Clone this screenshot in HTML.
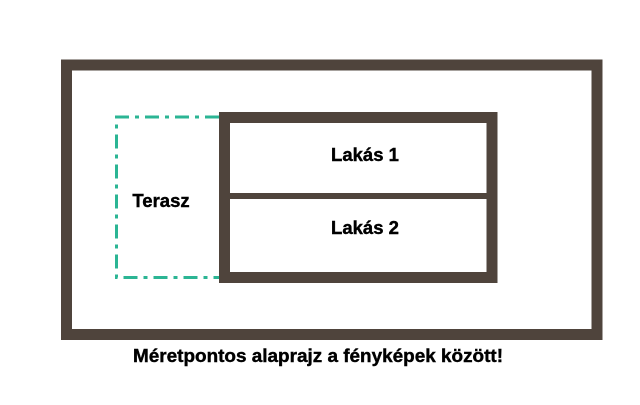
<!DOCTYPE html>
<html><head><meta charset="utf-8"><style>
html,body{margin:0;padding:0;background:#fff;width:640px;height:405px;overflow:hidden}
</style></head><body>
<svg width="640" height="405" viewBox="0 0 640 405" xmlns="http://www.w3.org/2000/svg">
<rect width="640" height="405" fill="#fff"/>
<rect x="66.5" y="65" width="530.5" height="269.5" fill="none" stroke="#4f443c" stroke-width="11"/>
<path d="M219 117 H116.5 V277.5 H219" fill="none" stroke="#2bb594" stroke-width="3" stroke-dasharray="14,6,4,6"/>
<rect x="224.5" y="117.5" width="267.5" height="160" fill="none" stroke="#4f443c" stroke-width="11"/>
<rect x="224" y="193" width="268" height="6" fill="#4f443c"/>
<g font-family="Liberation Sans, Arial, sans-serif" font-weight="bold" fill="#000" text-anchor="middle" stroke="#000" stroke-width="0.4">
<text x="161" y="207" font-size="18.5">Terasz</text>
<text x="365" y="161" font-size="18.5">Lakás 1</text>
<text x="365" y="234" font-size="18.5">Lakás 2</text>
<text x="318" y="362" font-size="18" textLength="370" lengthAdjust="spacingAndGlyphs">Méretpontos alaprajz a fényképek között!</text>
</g>
</svg>
</body></html>
